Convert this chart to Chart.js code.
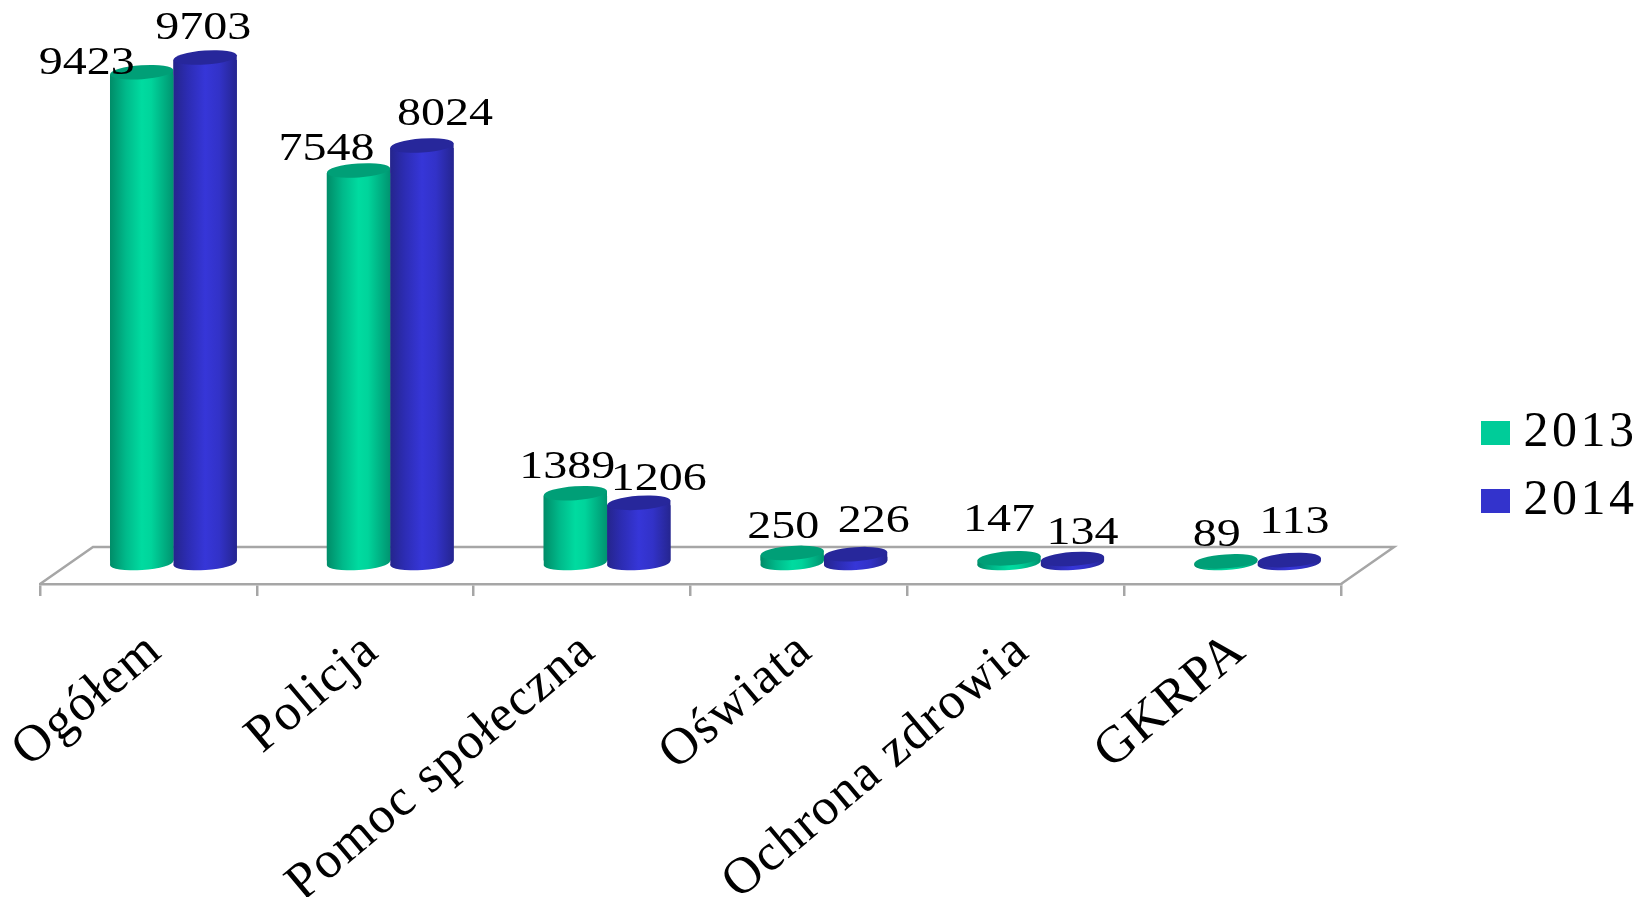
<!DOCTYPE html>
<html><head><meta charset="utf-8">
<style>html,body{margin:0;padding:0;background:#fff;overflow:hidden}canvas{display:block}</style>
<script src="https://cdn.jsdelivr.net/npm/chart.js@4"></script>
</head><body><canvas id="c" width="1643" height="897" style="width:1643px;height:897px"></canvas>
<script>
const categories = ['Ogółem','Policja','Pomoc społeczna','Oświata','Ochrona zdrowia','GKRPA'];
const values2013 = [9423,7548,1389,250,147,89];
const values2014 = [9703,8024,1206,226,134,113];
const seriesNames = ['2013','2014'];
const labelNudge2013 = [[-55,-9],[-32,-21],[-8,-26],[-9,-25],[-10,-38],[-9,-26]];
const labelNudge2014 = [[-2,-29],[23,-31],[20,-23],[18,-33],[10,-26],[5,-38]];
const swatchColors = ['#00CC99','#3333CC'];
const capColors = ['#009F77','#27279B'];
const ramps = [
  [[0,'#008C68'],[.25,'#00B98A'],[.5,'#00DBA0'],[.65,'#00D49B'],[1,'#009470']],
  [[0,'#25258C'],[.22,'#2C2CB2'],[.5,'#3636D8'],[.72,'#3232C8'],[1,'#252590']]
];
const FONT = '"Liberation Serif"';
const SHIFT_X = 25, DEPTH_X = 53, DEPTH_Y = 37, CAP_RY = 7, CAP_TILT = -4*Math.PI/180, BASE_LIFT = 3, TILT_TRIM = 2.5;
const GROUP = 0.585;
const LINE = '#A6A6A6';

function gradientFor(c){
  const chart=c.chart, sx=chart.scales.x, ca=chart.chartArea;
  if(!ca||!sx||c.dataIndex===undefined) return swatchColors[c.datasetIndex];
  const band=sx.width/categories.length, w=band*GROUP/2;
  const cx=sx.getPixelForTick(c.dataIndex);
  const x0=c.datasetIndex===0?cx-w:cx;
  const g=chart.ctx.createLinearGradient(x0,0,x0+w,0);
  ramps[c.datasetIndex].forEach(s=>g.addColorStop(s[0],s[1]));
  return g;
}
function swatch(color){
  const k=document.createElement('canvas');k.width=29;k.height=24;
  const x=k.getContext('2d');x.fillStyle=color;x.fillRect(0,0,29,24);return k;
}
function cap(ctx,el,y,fill){
  ctx.beginPath();
  ctx.ellipse(el.x,y,el.width/2,CAP_RY,CAP_TILT,0,Math.PI*2);
  ctx.fillStyle=fill;ctx.fill();
}
function sleeve(ctx,el,fill){
  // tilted body joining the tips of the top and bottom ellipses, under the native bar
  const a=el.width/2, dx=a*Math.cos(CAP_TILT), dy=a*Math.sin(CAP_TILT);
  ctx.beginPath();
  ctx.moveTo(el.x-dx,el.topY-dy);
  ctx.lineTo(el.x+dx,el.topY+dy);
  ctx.lineTo(el.x+dx,el.baseY+dy);
  ctx.lineTo(el.x-dx,el.baseY-dy);
  ctx.closePath();
  ctx.fillStyle=fill;ctx.fill();
  cap(ctx,el,el.baseY,fill);
}
const depthPlugin={
  id:'depth',
  beforeDraw(chart){
    chart.ctx.letterSpacing='1.5px';
  },
  afterLayout(chart){
    const l=chart.legend;
    l.left=1474.5;l.right=1643;l.top=390;l.bottom=897;
    if(!l.__w){const d=l.draw;l.draw=function(){const x=chart.ctx;x.save();x.letterSpacing='3.5px';d.call(this);x.restore();};l.__w=1;}
  },
  afterDatasetsUpdate(chart){
    [0,1].forEach(d=>chart.getDatasetMeta(d).data.forEach(el=>{
      el.topY=el.y; el.baseY=el.base-BASE_LIFT;
      const top=el.y+TILT_TRIM, bot=el.baseY-TILT_TRIM;
      if(top<bot){el.y=top;el.base=bot;}else{const m=(el.topY+el.baseY)/2;el.y=m;el.base=m;}
    }));
  },
  beforeDatasetsDraw(chart){
    const {ctx,chartArea:a}=chart;
    ctx.save();
    ctx.strokeStyle=LINE;ctx.lineWidth=2.5;
    ctx.beginPath();
    ctx.moveTo(a.left,a.bottom);
    ctx.lineTo(a.left+DEPTH_X,a.bottom-DEPTH_Y);
    ctx.lineTo(a.right+DEPTH_X,a.bottom-DEPTH_Y);
    ctx.lineTo(a.right,a.bottom);
    ctx.stroke();
    ctx.restore();
    ctx.save();
    ctx.translate(SHIFT_X,0);
    [0,1].forEach(d=>chart.getDatasetMeta(d).data.forEach(el=>sleeve(ctx,el,el.options.backgroundColor)));
  },
  afterDatasetsDraw(chart){
    const ctx=chart.ctx;
    [0,1].forEach(d=>chart.getDatasetMeta(d).data.forEach(el=>cap(ctx,el,el.topY,capColors[d])));
    ctx.restore();
    [labelNudge2013,labelNudge2014].forEach((nudge,d)=>{
      const vals=chart.data.datasets[d].data;
      chart.getDatasetMeta(d).data.forEach((el,i)=>{
        ctx.save();
        ctx.translate(el.x+SHIFT_X+nudge[i][0],el.topY+nudge[i][1]);
        ctx.scale(1.2,1);
        ctx.font='40px '+FONT;ctx.letterSpacing='0px';
        ctx.fillStyle='#000';ctx.textAlign='center';ctx.textBaseline='middle';
        ctx.fillText(String(vals[i]),0,0);
        ctx.restore();
      });
    });
  }
};
new Chart(document.getElementById('c'),{
  type:'bar',
  data:{labels:categories,datasets:[
    {label:seriesNames[0],data:values2013,backgroundColor:gradientFor,clip:false},
    {label:seriesNames[1],data:values2014,backgroundColor:gradientFor,clip:false}
  ]},
  plugins:[depthPlugin],
  options:{
    responsive:false,animation:false,devicePixelRatio:1,
    layout:{padding:{left:40,right:143,top:10,bottom:0}},
    datasets:{bar:{categoryPercentage:GROUP,barPercentage:1,borderWidth:0}},
    scales:{
      x:{
        afterFit(s){s.height=313;s.paddingLeft=0;s.paddingRight=0;},
        grid:{display:true,drawOnChartArea:false,drawTicks:true,tickLength:12,color:LINE,lineWidth:2.5},
        border:{display:true,color:LINE,width:2.5},
        ticks:{autoSkip:false,minRotation:40,maxRotation:40,padding:24,labelOffset:7,color:'#000',font:{family:FONT,size:52}}
      },
      y:{display:false,min:-343,max:10610,grid:{display:false}}
    },
    plugins:{
      tooltip:{enabled:false},
      title:{display:false},
      legend:{
        position:'right',align:'start',maxWidth:160,
        labels:{
          usePointStyle:true,pointStyleWidth:6,padding:18,color:'#000',font:{family:FONT,size:50},
          generateLabels(chart){
            return Chart.defaults.plugins.legend.labels.generateLabels(chart).map(it=>Object.assign(it,{fillStyle:swatchColors[it.datasetIndex],pointStyle:swatch(swatchColors[it.datasetIndex])}));
          }
        }
      }
    }
  }
});
</script></body></html>
